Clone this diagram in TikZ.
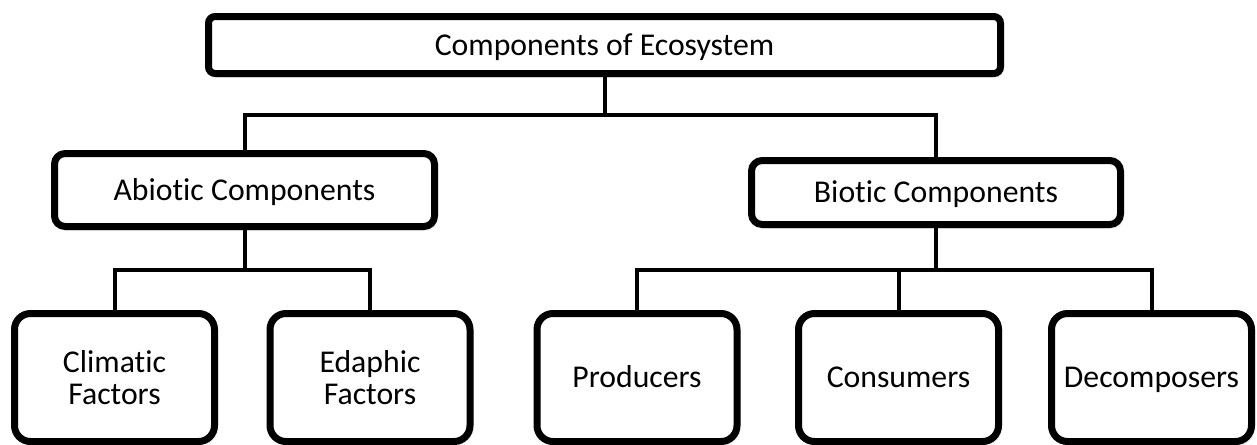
\documentclass[tikz,border=0pt]{standalone}
\usepackage{fontspec}
\setmainfont[Ligatures=NoCommon]{Carlito}
\usetikzlibrary{shadows.blur}
\begin{document}
\begin{tikzpicture}[x=0.75pt,y=-0.75pt,
  box/.style={draw=black, fill=white, line width=5.25pt, align=center,
    font=\fontsize{23.8}{24}\selectfont, inner sep=0pt,
    blur shadow={shadow xshift=1.2pt, shadow yshift=-1.8pt,
      shadow blur steps=6, shadow opacity=35}},
  oneline/.style={text height=16pt, text depth=0.5pt},
  topbox/.style={box, oneline, rounded corners=5pt, minimum width=594pt, minimum height=42.75pt},
  midbox/.style={box, oneline, rounded corners=8pt},
  leafbox/.style={box, rounded corners=12pt, minimum width=150pt, minimum height=96pt},
  conn/.style={draw=black, line width=3pt}]

\useasboundingbox (0,0) rectangle (1257,444);

% boxes
\node[topbox] (eco) at (604.5,45) {Components of Ecosystem};
\node[midbox, minimum width=285pt, minimum height=54.75pt] (abio) at (244.5,190) {Abiotic Components};
\node[midbox, minimum width=276.75pt, minimum height=48pt] (bio) at (936,192.5) {Biotic Components};

\node[leafbox] (clim) at (114.5,377.5) {Climatic\\Factors};
\node[leafbox] (edaph) at (370,377.5) {Edaphic\\Factors};
\node[leafbox, oneline] (prod) at (637,377.5) {Producers};
\node[leafbox, oneline] (cons) at (898.5,377.5) {Consumers};
\node[leafbox, oneline] (decomp) at (1151.5,377.5) {Decomposers};

% junction levels
\coordinate (j1) at (605,115);
\coordinate (j2) at (245,270);
\coordinate (j3) at (936,270);

% connectors
\draw[conn] (eco.south) -- (eco.south |- j1);
\draw[conn] (abio.north) |- (bio.north |- j1) -- (bio.north);

\draw[conn] (abio.south) -- (abio.south |- j2);
\draw[conn] (clim.north) |- (edaph.north |- j2) -- (edaph.north);

\draw[conn] (bio.south) -- (bio.south |- j3);
\draw[conn] (prod.north) |- (decomp.north |- j3) -- (decomp.north);
\draw[conn] (cons.north) -- (cons.north |- j3);
\end{tikzpicture}
\end{document}
